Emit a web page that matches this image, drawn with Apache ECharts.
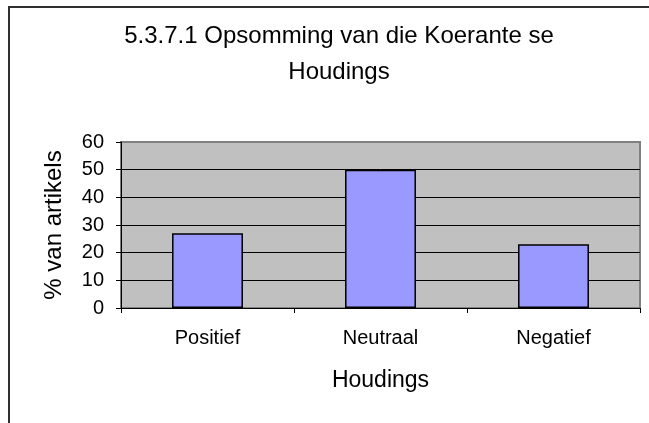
<!DOCTYPE html>
<html>
<head>
<meta charset="utf-8">
<script src="https://cdn.jsdelivr.net/npm/echarts@6/dist/echarts.min.js"></script>
<style>
  html, body { margin: 0; padding: 0; background: #fff; }
  #chart { width: 649px; height: 423px; }
</style>
</head>
<body>
<div id="chart"></div>
<script>
// data
var categories = ['Positief', 'Neutraal', 'Negatief']
var percentages = [27, 50, 23]
var yTicks = { min: 0, max: 60, interval: 10 }

var font = "'Liberation Sans', Arial, sans-serif"
var myChart = echarts.init(document.getElementById('chart'), null, { renderer: 'canvas' })

var option = {
  backgroundColor: '#ffffff',
  animation: false,
  title: {
    text: '5.3.7.1 Opsomming van die Koerante se\nHoudings',
    left: 334,
    top: 13,
    textAlign: 'center',
    textStyle: {
      fontFamily: font,
      fontSize: 24,
      fontWeight: 'normal',
      color: '#000',
      lineHeight: 36
    }
  },
  grid: {
    left: 121,
    right: 9,
    top: 142,
    bottom: 115,
    show: true,
    backgroundColor: '#c0c0c0',
    borderColor: '#808080',
    borderWidth: 2
  },
  xAxis: {
    type: 'category',
    data: categories,
    name: 'Houdings',
    nameLocation: 'middle',
    nameGap: 61,
    nameTextStyle: { fontFamily: font, fontSize: 23, color: '#000' },
    axisLine: { lineStyle: { color: '#000', width: 1 } },
    axisTick: { show: true, length: 5, lineStyle: { color: '#000' } },
    axisLabel: { fontFamily: font, fontSize: 20, color: '#000', margin: 20 }
  },
  yAxis: {
    type: 'value',
    min: yTicks.min,
    max: yTicks.max,
    interval: yTicks.interval,
    name: '% van artikels',
    nameLocation: 'middle',
    nameGap: 55,
    nameTextStyle: { fontFamily: font, fontSize: 24, color: '#000' },
    axisLine: { show: true, lineStyle: { color: '#000', width: 1 } },
    axisTick: { show: true, length: 5, lineStyle: { color: '#000' } },
    axisLabel: { fontFamily: font, fontSize: 20, color: '#000', margin: 17 },
    splitLine: {
      show: true,
      lineStyle: {
        color: ['#000', '#000', '#000', '#000', '#000', '#000', '#808080'],
        width: 1
      }
    }
  },
  series: [
    {
      name: '% van artikels',
      type: 'bar',
      data: percentages,
      barCategoryGap: '59%',
      itemStyle: {
        color: '#9999ff',
        borderColor: '#000',
        borderWidth: 1.5
      }
    }
  ],
  graphic: [
    {
      type: 'rect',
      shape: { x: 9, y: 7, width: 700, height: 500 },
      style: { fill: null, stroke: '#303030', lineWidth: 2 },
      silent: true
    }
  ]
}
myChart.setOption(option)
</script>
</body>
</html>
